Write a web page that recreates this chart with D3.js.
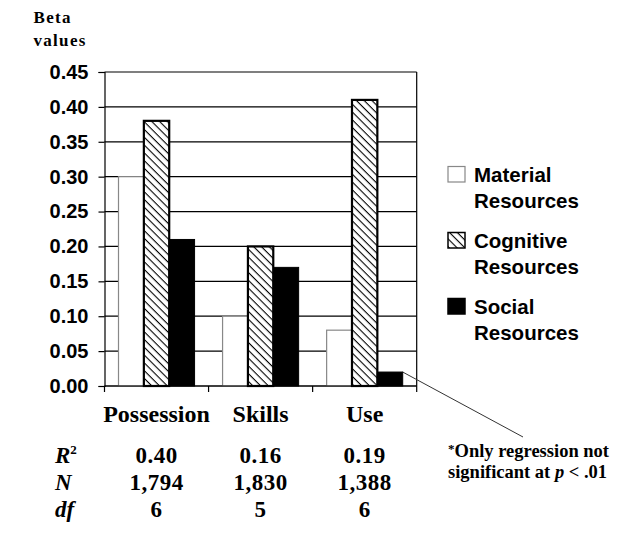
<!DOCTYPE html>
<html>
<head>
<meta charset="utf-8">
<script src="https://cdn.jsdelivr.net/npm/d3@7"></script>
<style>
  body { margin: 0; background: #fff; }
  svg { display: block; }
</style>
</head>
<body>
<svg id="chart" width="642" height="535"></svg>
<script>
// ---- data ----
const categories = ["Possession", "Skills", "Use"];
const seriesNames = ["Material Resources", "Cognitive Resources", "Social Resources"];
const materialValues = [0.30, 0.10, 0.08];
const cognitiveValues = [0.38, 0.20, 0.41];
const socialValues = [0.21, 0.17, 0.02];
const yTicks = [0, 0.05, 0.10, 0.15, 0.20, 0.25, 0.30, 0.35, 0.40, 0.45];
const r2Values = ["0.40", "0.16", "0.19"];
const nValues = ["1,794", "1,830", "1,388"];
const dfValues = ["6", "5", "6"];

(function () {
const seriesValues = [materialValues, cognitiveValues, socialValues];
const rows = categories.map((c, i) => ({ cat: c, vals: seriesNames.map((s, j) => ({ s, v: seriesValues[j][i] })) }));

const svg = d3.select("#chart");
const serif = "'Liberation Serif', 'DejaVu Serif', serif";
const sans = "'Liberation Sans', Arial, sans-serif";

// hatch pattern ("\" direction)
const defs = svg.append("defs");
const pat = defs.append("pattern").attr("id", "hatch").attr("patternUnits", "userSpaceOnUse")
  .attr("width", 5.5).attr("height", 5.5).attr("patternTransform", "rotate(45)");
pat.append("rect").attr("width", 5.5).attr("height", 5.5).attr("fill", "#fff");
pat.append("line").attr("x1", 0).attr("y1", 0).attr("x2", 5.5).attr("y2", 0)
  .attr("stroke", "#000").attr("stroke-width", 2.2);

const pLeft = 104.5, pRight = 416.7, pTop = 72, pBottom = 386;
const x = d3.scaleBand().domain(categories).range([pLeft, pRight]).paddingInner(0).paddingOuter(0);
const xs = d3.scaleBand().domain(seriesNames).range([14, x.bandwidth() - 14]);
const y = d3.scaleLinear().domain([0, 0.45]).range([pBottom, pTop]);

// grid lines
svg.append("g").selectAll("line").data(yTicks).join("line")
  .attr("x1", pLeft).attr("x2", pRight)
  .attr("y1", d => y(d)).attr("y2", d => y(d))
  .attr("stroke", "#000").attr("stroke-width", 1.2);

// right border
svg.append("line").attr("x1", pRight).attr("x2", pRight).attr("y1", pTop).attr("y2", pBottom)
  .attr("stroke", "#000").attr("stroke-width", 1.2);

// bars
const styles = {
  "Material Resources": { fill: "#fff", stroke: "#888", sw: 1.2 },
  "Cognitive Resources": { fill: "url(#hatch)", stroke: "#000", sw: 2.2 },
  "Social Resources": { fill: "#000", stroke: "#000", sw: 1 }
};
const g = svg.append("g");
rows.forEach(r => {
  g.selectAll(null).data(r.vals).join("rect")
    .attr("x", d => x(r.cat) + xs(d.s))
    .attr("width", xs.bandwidth())
    .attr("y", d => y(d.v))
    .attr("height", d => y(0) - y(d.v))
    .attr("fill", d => styles[d.s].fill)
    .attr("stroke", d => styles[d.s].stroke)
    .attr("stroke-width", d => styles[d.s].sw);
});

// y axis
const yAxis = svg.append("g").attr("transform", `translate(${pLeft},0)`)
  .call(d3.axisLeft(y).tickValues(yTicks).tickFormat(d3.format(".2f")).tickSize(6).tickPadding(10));
yAxis.select(".domain").attr("stroke", "#000").attr("stroke-width", 1.2);
yAxis.selectAll(".tick line").attr("stroke", "#000").attr("stroke-width", 1.2);
yAxis.selectAll(".tick text").attr("font-family", sans).attr("font-weight", "bold")
  .attr("font-size", 20).attr("fill", "#000");

// x baseline ticks at band boundaries
const bounds = categories.map(c => x(c)).concat([x(categories[categories.length - 1]) + x.bandwidth()]);
svg.append("line").attr("x1", pLeft).attr("x2", pRight).attr("y1", pBottom).attr("y2", pBottom)
  .attr("stroke", "#000").attr("stroke-width", 1.2);
svg.append("g").selectAll("line").data(bounds).join("line")
  .attr("x1", d => d).attr("x2", d => d).attr("y1", pBottom).attr("y2", pBottom + 6)
  .attr("stroke", "#000").attr("stroke-width", 1.2);

// category labels
svg.append("g").selectAll("text").data(categories).join("text")
  .attr("x", d => x(d) + x.bandwidth() / 2).attr("y", 421.5)
  .attr("text-anchor", "middle").attr("font-family", serif).attr("font-weight", "bold")
  .attr("font-size", 24).text(d => d);

// y title
svg.append("text").attr("x", 33.5).attr("y", 23.3).attr("font-family", serif).attr("font-weight", "bold")
  .attr("font-size", 17).attr("letter-spacing", 1.3).text("Beta");
svg.append("text").attr("x", 33.5).attr("y", 45.7).attr("font-family", serif).attr("font-weight", "bold")
  .attr("font-size", 17).attr("letter-spacing", 1.3).text("values");

// stats table
const statRows = [
  { label: "R", sup: "2", vals: r2Values, yb: 463 },
  { label: "N", vals: nValues, yb: 490 },
  { label: "df", vals: dfValues, yb: 516.5 }
];
statRows.forEach(r => {
  const t = svg.append("text").attr("x", 55).attr("y", r.yb).attr("font-family", serif)
    .attr("font-style", "italic").attr("font-weight", "bold").attr("font-size", 23);
  t.append("tspan").text(r.label);
  if (r.sup) t.append("tspan").attr("font-style", "normal").attr("font-size", 13).attr("dy", -9).text(r.sup);
  svg.append("g").selectAll("text").data(r.vals).join("text")
    .attr("x", (d, i) => x(categories[i]) + x.bandwidth() / 2).attr("y", r.yb)
    .attr("text-anchor", "middle").attr("font-family", serif).attr("font-weight", "bold")
    .attr("font-size", 23).attr("letter-spacing", 0.5).text(d => d);
});

// legend
const legend = svg.append("g");
seriesNames.forEach((s, i) => {
  const ly = 166.5 + i * 66;
  legend.append("rect").attr("x", 448).attr("y", ly).attr("width", 17).attr("height", 15.5)
    .attr("fill", styles[s].fill).attr("stroke", styles[s].stroke)
    .attr("stroke-width", i === 0 ? 1.2 : 1.5);
  const parts = s.split(" ");
  parts.forEach((p, k) => {
    legend.append("text").attr("x", 474).attr("y", ly + 15 + k * 26.5)
      .attr("font-family", sans).attr("font-weight", "bold").attr("font-size", 20.5).text(p);
  });
});

// annotation
const useSocialX = x("Use") + xs("Social Resources") + xs.bandwidth();
svg.append("line").attr("x1", useSocialX).attr("y1", y(socialValues[2]))
  .attr("x2", 523).attr("y2", 437).attr("stroke", "#333").attr("stroke-width", 1);
const a1 = svg.append("text").attr("x", 448).attr("y", 456.5).attr("font-family", serif)
  .attr("font-weight", "bold").attr("font-size", 18.5);
a1.append("tspan").attr("font-size", 13).attr("dy", -4).text("*");
a1.append("tspan").attr("dy", 4).text("Only regression not");
const a2 = svg.append("text").attr("x", 448).attr("y", 477.5).attr("font-family", serif)
  .attr("font-weight", "bold").attr("font-size", 18.5);
a2.append("tspan").text("significant at ");
a2.append("tspan").attr("font-style", "italic").text("p");
a2.append("tspan").text(" < .01");
})();
</script>
</body>
</html>
